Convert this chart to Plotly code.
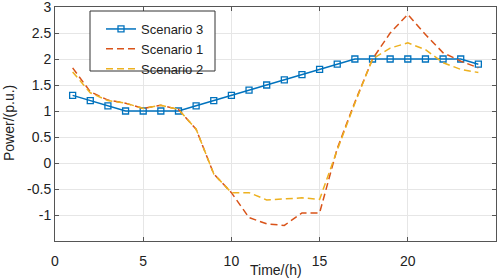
import plotly.graph_objects as go

hours = list(range(1, 25))
scenario3 = [1.3, 1.2, 1.1, 1.0, 1.0, 1.0, 1.0, 1.1, 1.2, 1.3, 1.4, 1.5,
             1.6, 1.7, 1.8, 1.9, 2.0, 2.0, 2.0, 2.0, 2.0, 2.0, 2.0, 1.9]
scenario1 = [1.83, 1.37, 1.21, 1.15, 1.05, 1.11, 1.03, 0.65, -0.21, -0.57, -1.05, -1.17,
             -1.2, -0.96, -0.96, 0.28, 1.17, 2.0, 2.5, 2.86, 2.47, 2.12, 1.96, 1.83]
scenario2 = [1.75, 1.35, 1.2, 1.15, 1.05, 1.11, 1.03, 0.65, -0.21, -0.57, -0.57, -0.71,
             -0.69, -0.67, -0.7, 0.25, 1.15, 2.0, 2.21, 2.31, 2.18, 1.93, 1.8, 1.74]
x_ticks = [0, 5, 10, 15, 20]
y_ticks = [-1, -0.5, 0, 0.5, 1, 1.5, 2, 2.5, 3]
y_tick_labels = ["-1", "-0.5", "0", "0.5", "1", "1.5", "2", "2.5", "3"]

W, H = 498, 279
ML, MR, MT, MB = 55, 2, 7, 38
PW, PH = W - ML - MR, H - MT - MB


def px_x(p):
    return (p - ML) / PW


def px_y(p):
    return (H - MB - p) / PH


fig = go.Figure()
fig.add_trace(go.Scatter(x=hours, y=scenario3, mode="lines+markers", name="Scenario 3",
                         line=dict(color="#0072BD", width=1.5),
                         marker=dict(symbol="square-open", size=6, color="#0072BD",
                                     line=dict(width=1.3))))
fig.add_trace(go.Scatter(x=hours, y=scenario1, mode="lines", name="Scenario 1",
                         line=dict(color="#D95319", width=1.5, dash="7px,4px")))
fig.add_trace(go.Scatter(x=hours, y=scenario2, mode="lines", name="Scenario 2",
                         line=dict(color="#EDB120", width=1.5, dash="7px,4px")))

axis_common = dict(showgrid=True, gridcolor="#e6e6e6", gridwidth=1, automargin=False,
                   showline=True, linecolor="#555555", linewidth=1, mirror="ticks",
                   ticks="inside", ticklen=4, tickcolor="#555555", zeroline=False,
                   ticklabeloverflow="allow",
                   tickfont=dict(size=14, color="#222222"))

fig.update_layout(
    width=W, height=H,
    margin=dict(l=ML, r=MR, t=MT, b=MB),
    paper_bgcolor="white", plot_bgcolor="white",
    font=dict(family="Liberation Sans, Arial, sans-serif", color="#222222"),
    xaxis=dict(range=[0, 25], tickvals=x_ticks, ticklabelstandoff=7, **axis_common),
    yaxis=dict(range=[-1.5, 3.0001], tickvals=y_ticks, ticktext=y_tick_labels, **axis_common),
    legend=dict(x=px_x(101), y=px_y(14), xanchor="left", yanchor="top",
                bgcolor="rgba(0,0,0,0)", borderwidth=0, tracegroupgap=0,
                font=dict(size=13), itemwidth=30),
    showlegend=True,
    shapes=[dict(type="rect", xref="paper", yref="paper",
                 x0=px_x(90), x1=px_x(215), y0=px_y(71), y1=px_y(11),
                 line=dict(color="#333333", width=1), fillcolor="white", layer="above")],
    annotations=[
        dict(text="Time/(h)", xref="paper", yref="paper", x=px_x(275.5), y=px_y(270),
             xanchor="center", yanchor="middle", showarrow=False, font=dict(size=14)),
        dict(text="Power/(p.u.)", xref="paper", yref="paper", x=px_x(9), y=px_y(123),
             xanchor="center", yanchor="middle", textangle=-90, showarrow=False,
             font=dict(size=14)),
    ],
)

fig.write_html("out.html", config={"displayModeBar": False},
               post_script="document.body.style.margin='0';document.body.style.overflow='hidden';")
